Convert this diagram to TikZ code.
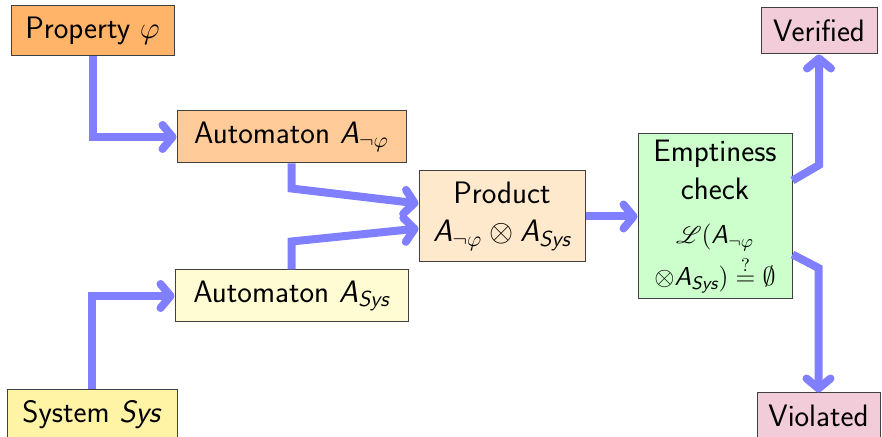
\RequirePackage{fix-cm}
\documentclass[tikz,border=0pt]{standalone}
\usepackage{fontspec}
\usepackage{amsmath}
\usepackage{mathrsfs}
\usetikzlibrary{arrows.meta,calc}
\renewcommand*{\familydefault}{\sfdefault}

% slanted sans letters inside formulas
\newcommand{\sfit}[1]{\text{\sffamily\itshape #1}}

\definecolor{flowblue}{RGB}{127,127,255}
\definecolor{propfill}{RGB}{255,180,105}
\definecolor{autafill}{RGB}{255,204,153}
\definecolor{prodfill}{RGB}{255,233,204}
\definecolor{emptfill}{RGB}{204,255,204}
\definecolor{resfill}{RGB}{242,204,217}
\definecolor{autsfill}{RGB}{255,251,210}
\definecolor{sysfill}{RGB}{255,243,165}

\tikzset{
  box/.style={draw=black!75, line width=0.5pt, inner sep=0pt, align=center,
    font=\sffamily\fontsize{15.5}{19}\selectfont},
  flow/.style={draw=flowblue, line width=4pt,
    -{Straight Barb[length=5pt,width=12pt,round]}},
}

\begin{document}
\begin{tikzpicture}[x=0.5pt,y=-0.5pt]
  \useasboundingbox (0,0) rectangle (882,437);

  % boxes
  \node[box, fill=propfill, minimum width=81.5pt, minimum height=25pt] (prop) at (92.5,31) {Property $\varphi$};
  \node[box, fill=autafill, minimum width=114.5pt, minimum height=26pt] (auta) at (291.5,137) {Automaton $\sfit{A}_{\neg\varphi}$};
  \node[box, fill=autsfill, minimum width=116.5pt, minimum height=26pt] (auts) at (291.5,296) {Automaton $\sfit{A}_{\sfit{Sys}}$};
  \node[box, fill=sysfill, minimum width=85pt, minimum height=25pt] (sys) at (92,415) {System \textit{Sys}};
  \node[box, fill=prodfill, minimum width=83pt, minimum height=45.5pt] (prod) at (502,216.5)
    {Product\\$\sfit{A}_{\neg\varphi}\otimes\sfit{A}_{\sfit{Sys}}$};
  \node[box, fill=emptfill, minimum width=77pt, minimum height=82.5pt] (empt) at (715,216.5)
    {Emptiness\\check\\[3pt]{\fontsize{13}{15}\selectfont$\mathscr{L}(\sfit{A}_{\neg\varphi}$}\\[2pt]%
     {\fontsize{13}{15}\selectfont$\otimes\sfit{A}_{\sfit{Sys}})\stackrel{?}{=}\emptyset$}};
  \node[box, fill=resfill, minimum width=58pt, minimum height=23pt] (ver) at (819,31) {Verified};
  \node[box, fill=resfill, minimum width=61.5pt, minimum height=23pt] (vio) at (818.5,416) {Violated};

  % bends and entry points of the connectors
  \coordinate (ina) at ($(prod.west)+(0,-13)$);
  \coordinate (ins) at ($(prod.west)+(0,12)$);
  \coordinate (bena) at ($(auta.south)+(0,25)$);
  \coordinate (bens) at ($(auts.north)+(0,-28)$);
  \coordinate (outv) at ($(empt.east)+(0,-36)$);
  \coordinate (outx) at ($(empt.east)+(0,38)$);
  \coordinate (benv) at (ver.south |- 0,165);
  \coordinate (benx) at (vio.north |- 0,268);

  % connectors
  \draw[flow] (prop.south) |- (auta.west);
  \draw[flow] (sys.north) |- (auts.west);
  \draw[flow] (auta.south) -- (bena) -- (ina);
  \draw[flow] (auts.north) -- (bens) -- (ins);
  \draw[flow] (prod.east) -- (empt.west);
  \draw[flow] (outv) -- (benv) -- (ver.south);
  \draw[flow] (outx) -- (benx) -- (vio.north);
\end{tikzpicture}
\end{document}
